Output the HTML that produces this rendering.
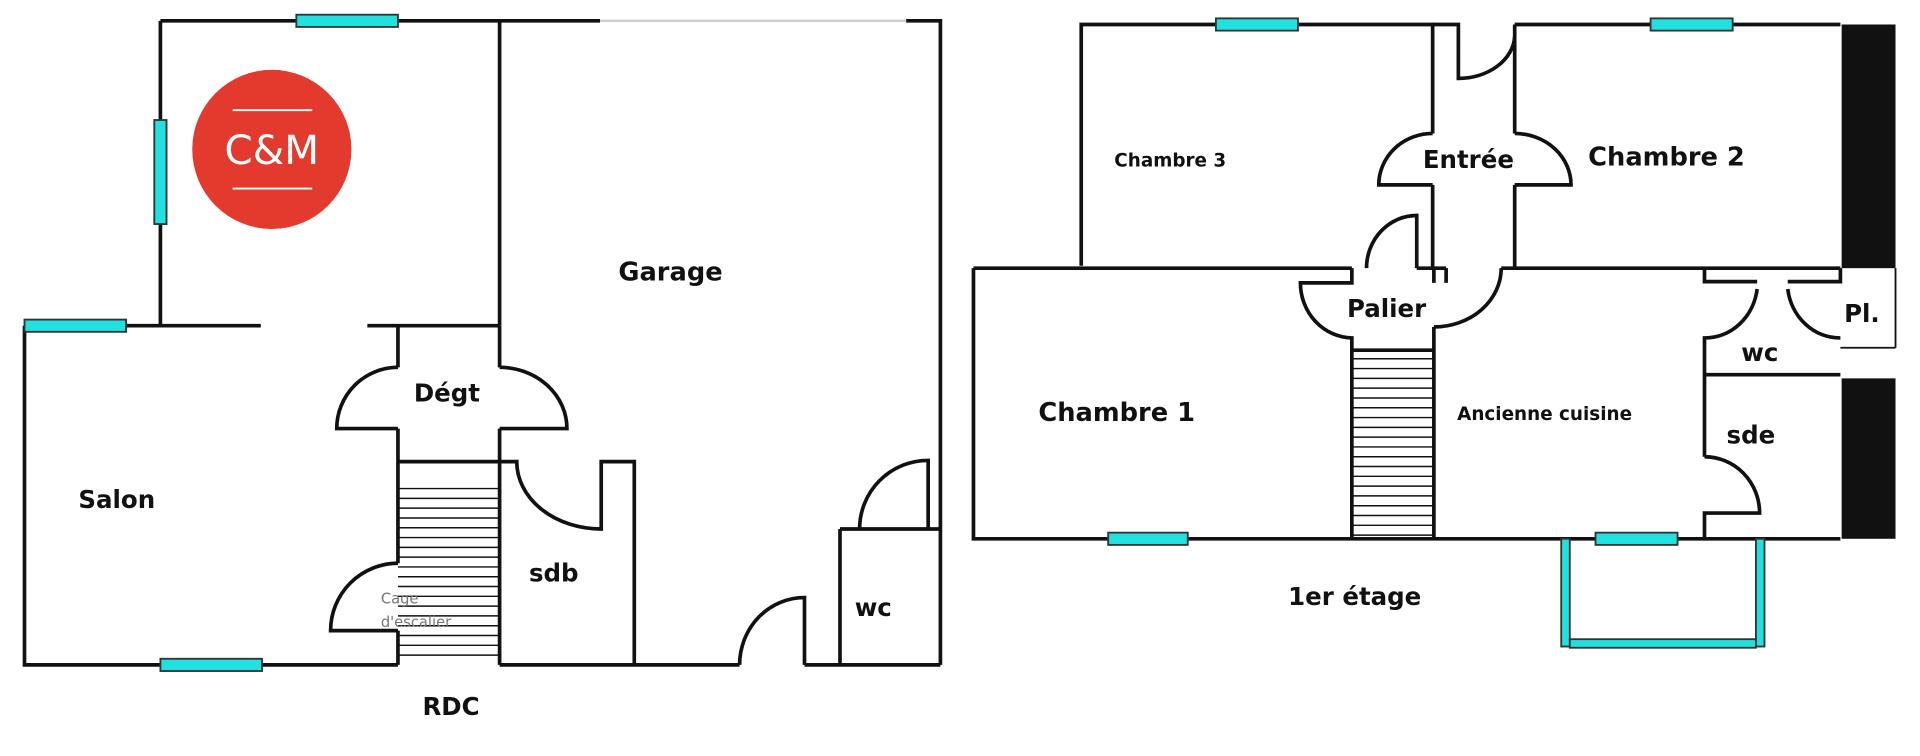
<!DOCTYPE html>
<html><head><meta charset="utf-8"><style>
html,body{margin:0;padding:0;background:#fff;width:1920px;height:756px;overflow:hidden}
text{font-family:"DejaVu Sans","Liberation Sans",sans-serif;font-weight:bold;fill:#111}
</style></head><body>
<svg width="1920" height="756" viewBox="0 0 1568 617.4" xmlns="http://www.w3.org/2000/svg">
<g stroke="#111" stroke-width="3" fill="none">
<!-- LEFT PLAN -->
<path d="M131 17 H408 M408 17 H490 M740 17 H768 V543"/>
<path d="M490 17 H740" stroke="#ccc" stroke-width="2"/>
<path d="M131 17 V266 H213 M300 266 H408 M408 17 V266"/>
<path d="M20 266 V543 H325 M20 266 H131"/>
<path d="M325 266 V300 M408 266 V300 M325 350 V460 M325 515 V543 M408 350 V543"/>
<path d="M325 300 A50 50 0 0 0 275 350 H325"/>
<path d="M408 300 A55 50 0 0 1 463 350 H408"/>
<path d="M325 377 H408"/>
<path d="M408 543 H604 M657 543 H768"/>
<path d="M604 543 A53 55 0 0 1 657 488 V543"/>
<path d="M408 377 H422 A69 55 0 0 0 491 432 V377 H518 V543"/>
<path d="M686 432 H768 M686 432 V543"/>
<path d="M702 432 A56 56 0 0 1 758 376 V432"/>
<path d="M325 460 A55 55 0 0 0 270 515 H325"/>
<g stroke-width="1.2">
<path d="M325 399 H408 M325 407 H408 M325 415 H408 M325 423 H408 M325 431 H408 M325 439 H408 M325 447 H408 M325 455 H408 M325 463 H408 M325 471 H408 M325 479 H408 M325 487 H408 M325 495 H408 M325 503 H408 M325 511 H408 M325 519 H408 M325 527 H408 M325 535 H408"/>
</g>
<!-- RIGHT PLAN -->
<path d="M883 217 V20 H1170 V109 M1170 151 V219"/>
<path d="M1170 20 H1191 V64 A46 36 0 0 0 1237 30"/>
<path d="M1237 20 H1503 M1237 20 V109 M1237 151 V219"/>
<path d="M1170 109 A44 42 0 0 0 1126 151 H1170"/>
<path d="M1237 109 A46 42 0 0 1 1283 151 H1237"/>
<path d="M795 219 H1104 M1157 219 H1181 M1226 219 H1503 M795 219 V440 H1503"/>
<path d="M1116 219 A41 43 0 0 1 1157 176 V219"/>
<path d="M1104 219 V231 H1062 A43 45 0 0 0 1104 276 V440"/>
<path d="M1171 219 V231 M1181 219 V231 M1171 267 V440"/>
<path d="M1171 267 A55 48 0 0 0 1226 219"/>
<path d="M1104 286 H1171"/>
<path d="M1392 219 V230 H1435 M1435 236 A43 46 0 0 1 1392 276 V373"/>
<path d="M1503 219 V230 H1460 M1460 236 A43 46 0 0 0 1503 276"/>
<path d="M1392 306 H1503"/>
<path d="M1392 373 A45 46 0 0 1 1437 419 H1392 V440"/>
<path d="M1503 284 H1548 M1548 219 V284" stroke-width="1.5"/>
<g stroke-width="1.2">
<path d="M1104 293 H1171 M1104 301 H1171 M1104 309 H1171 M1104 317 H1171 M1104 325 H1171 M1104 333 H1171 M1104 341 H1171 M1104 349 H1171 M1104 357 H1171 M1104 365 H1171 M1104 373 H1171 M1104 381 H1171 M1104 389 H1171 M1104 397 H1171 M1104 405 H1171 M1104 413 H1171 M1104 421 H1171 M1104 429 H1171 M1104 437 H1171"/>
</g>
</g>
<rect x="1504" y="20" width="44" height="199" fill="#111"/>
<rect x="1504" y="309" width="44" height="131" fill="#111"/>
<g fill="#20e0e0" stroke="#333" stroke-width="1.5">
<rect x="242" y="12" width="83" height="10"/>
<rect x="126" y="98" width="10" height="85"/>
<rect x="20" y="261" width="83" height="10"/>
<rect x="131" y="538" width="83" height="10"/>
<rect x="993" y="15" width="67" height="10"/>
<rect x="1348" y="15" width="67" height="10"/>
<rect x="905" y="435" width="65" height="10"/>
<rect x="1303" y="435" width="67" height="10"/>
<rect x="1275" y="440" width="7" height="88"/>
<rect x="1434" y="440" width="7" height="88"/>
<rect x="1282" y="522" width="152" height="7"/>
</g>
<circle cx="222" cy="122" r="65" fill="#e23a2c"/>
<path d="M190 90 H255 M190 154 H255" stroke="#fff" stroke-width="1.5"/>
<text x="222" y="134" text-anchor="middle" font-size="33" style="fill:#fff;font-weight:normal">C&amp;M</text>
<text x="505" y="229" font-size="21">Garage</text>
<text x="338" y="328" font-size="20">Dégt</text>
<text x="64" y="415" font-size="20">Salon</text>
<text x="432" y="475" font-size="20">sdb</text>
<text x="698" y="503" font-size="20">wc</text>
<text x="345" y="584" font-size="20">RDC</text>
<text x="311" y="493" font-size="12" style="font-weight:normal;fill:#777">Cage</text>
<text x="311" y="512" font-size="12" style="font-weight:normal;fill:#777">d'escalier</text>
<text x="910" y="136" font-size="15">Chambre 3</text>
<text x="1162" y="137" font-size="20">Entrée</text>
<text x="1297" y="135" font-size="21">Chambre 2</text>
<text x="1100" y="259" font-size="20">Palier</text>
<text x="1506" y="263" font-size="20">Pl.</text>
<text x="1422" y="295" font-size="20">wc</text>
<text x="848" y="344" font-size="21">Chambre 1</text>
<text x="1190" y="343" font-size="15">Ancienne cuisine</text>
<text x="1410" y="362" font-size="20">sde</text>
<text x="1052" y="494" font-size="20">1er étage</text>
</svg>
</body></html>
